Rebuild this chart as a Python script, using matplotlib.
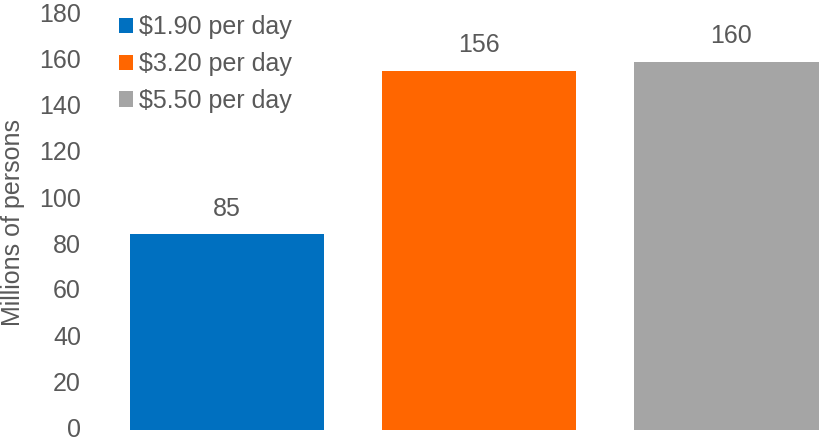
import matplotlib.pyplot as plt
import matplotlib.transforms as mtransforms

# Данные
labels = ['$1.90 per day', '$3.20 per day', '$5.50 per day']
values = [85, 156, 160]
colors = ['#0070C0', '#FF6600', '#A5A5A5']
yticks = [0, 20, 40, 60, 80, 100, 120, 140, 160, 180]

plt.rcParams['font.family'] = ['Liberation Sans', 'DejaVu Sans']
txt = '#595959'
fs = 18

fig = plt.figure(figsize=(8.2, 4.4), dpi=100)
ax = fig.add_axes([95 / 820, 10 / 440, 725 / 820, 414 / 440])

x = list(range(len(values)))
bars = ax.bar(x, values, width=0.77, color=colors, label=labels)

for xi, v in zip(x, values):
    ax.text(xi, v + 6, str(v), ha='center', va='bottom', fontsize=fs, color=txt)

ax.set_ylim(0, 180)
ax.set_xlim(-0.524, 2.353)
ax.set_yticks(yticks)
ax.set_xticks([])
ax.tick_params(axis='y', length=0, labelsize=fs, labelcolor=txt, pad=10)
# подписи делений чуть выше (как в оригинале)
up = mtransforms.ScaledTranslation(0, 3 / 100, fig.dpi_scale_trans)
for lab in ax.get_yticklabels():
    lab.set_transform(lab.get_transform() + up)
ax.set_ylabel('Millions of persons', fontsize=fs, color=txt)
ax.yaxis.set_label_coords(-70 / 725, 0.5)
for s in ax.spines.values():
    s.set_visible(False)

leg = ax.legend(handles=list(bars), labels=labels, loc='upper left',
                bbox_to_anchor=(0.0195, 1.026), frameon=False, fontsize=fs,
                handlelength=0.56, handleheight=0.56, handletextpad=0.25,
                labelspacing=0.51, labelcolor=txt, borderaxespad=0)

fig.savefig('out.png', dpi=100)
